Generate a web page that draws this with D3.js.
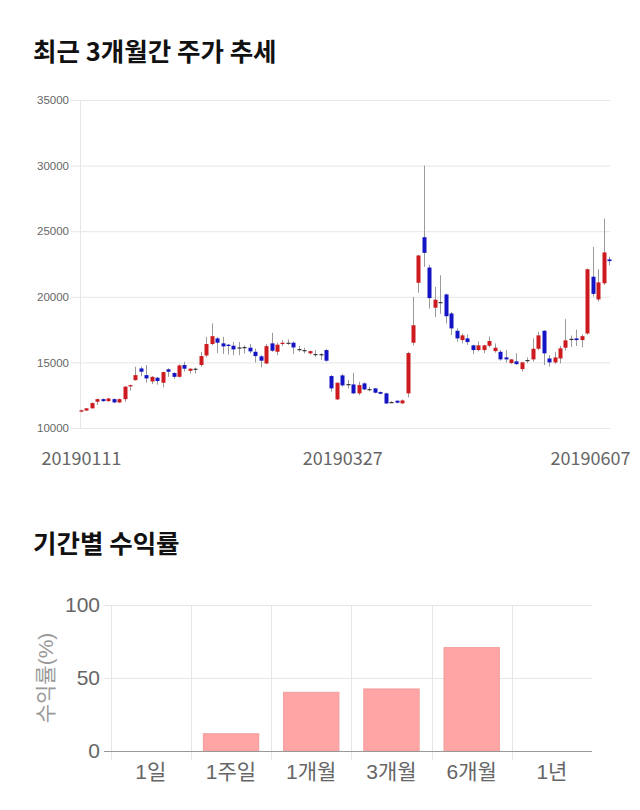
<!DOCTYPE html>
<html><head><meta charset="utf-8">
<script src="https://cdn.jsdelivr.net/npm/d3@7"></script>
<style>body{margin:0;background:#fff}</style>
</head><body>
<svg id="c" width="640" height="810"></svg>
<script>
const dates = ["20190111","20190114","20190115","20190116","20190117","20190118","20190121","20190122","20190123","20190124","20190125","20190128","20190129","20190130","20190131",
"20190207","20190208","20190211","20190212","20190213","20190214","20190215","20190218","20190219","20190220","20190221","20190222","20190225","20190226","20190227","20190228",
"20190304","20190305","20190306","20190307","20190308","20190311","20190312","20190313","20190314","20190315","20190318","20190319","20190320","20190321","20190322","20190325","20190326","20190327","20190328","20190329",
"20190401","20190402","20190403","20190404","20190405","20190408","20190409","20190410","20190411","20190412","20190415","20190416","20190417","20190418","20190419","20190422","20190423","20190424","20190425","20190426","20190429","20190430",
"20190502","20190503","20190507","20190508","20190509","20190510","20190513","20190514","20190515","20190516","20190517","20190520","20190521","20190522","20190523","20190524","20190527","20190528","20190529","20190530","20190531",
"20190603","20190604","20190605","20190607"];
const opens  = [11250,11330,11500,12000,12200,12050,12200,11950,12200,13170,13650,14540,14030,13550,13830,13450,14470,14190,13900,14800,14360,14520,14800,15530,16400,16830,16450,16350,16270,16140,16170,16120,15810,15460,14920,16450,15810,16400,16500,16500,16020,15940,15690,15640,15630,15940,13960,12180,14010,13350,13320,12640,13400,12970,13020,12740,12640,11980,12080,11880,12640,16500,21070,24540,22230,19170,19600,20180,18730,17410,16700,16830,16300,15940,15940,16270,15860,15810,15380,14950,15080,14490,15180,15230,16040,17410,15300,15000,15300,16120,16800,16830,16700,17210,21530,19800,21030,22850];
const highs  = [11400,11520,11950,12250,12250,12300,12250,12250,13200,13300,14670,14670,14800,13950,13900,14300,14550,14250,14850,15050,14550,14600,15800,16950,17970,16950,16950,16400,16560,16560,16300,16400,16050,15560,16400,17260,16500,16700,16750,16600,16250,16120,15900,15940,15700,16020,14030,13450,14110,13650,14210,13530,13480,13150,13050,12790,12690,12050,12100,12180,15810,19990,23200,30000,22450,20750,21640,20250,18850,17600,17200,17150,16350,16600,16350,16960,16450,15940,15940,15250,15690,15050,15380,16830,17330,17460,15560,15800,16250,18300,17050,17500,17130,22150,23800,22100,25960,23050];
const lows   = [11200,11300,11480,11750,12000,12000,11900,11900,12000,12850,13600,13950,13450,13350,13300,13100,13900,13750,13850,14300,14150,14150,14680,15380,16330,15700,15650,15600,15550,15550,15680,15700,14990,14620,14870,15810,15550,16250,16330,15650,15810,15680,15600,15430,15180,15050,12760,12130,13150,13000,12590,12510,12890,12790,12640,12560,11820,11900,11880,11830,12330,16300,20300,22280,19100,18460,18710,17970,17080,16580,16450,16330,15640,15840,15700,16150,15740,15130,14990,14880,14800,14300,14950,15050,15940,14800,14680,14870,14920,15900,16180,16250,16150,17100,20020,19640,20900,22400];
const closes = [11350,11500,11900,12200,12050,12250,11950,12200,13150,13270,14030,14290,13780,13900,13580,14260,14290,13900,14770,14520,14520,14520,15480,16400,17000,16500,16220,16250,15990,16140,16170,15840,15480,15130,16240,15890,16350,16500,16500,16140,16020,15940,15860,15640,15630,15130,13020,13450,13250,13350,12640,13270,12940,12970,12690,12610,11870,11980,11930,12100,15710,17830,23150,23350,19900,19780,19600,18520,17590,16830,17060,16550,15940,16300,16300,16630,16120,15230,15230,15230,14870,15000,15180,16040,17060,15690,15000,15380,16070,16680,16800,16700,17000,22100,20220,21100,23380,22720];
const priceTicks = [10000,15000,20000,25000,30000,35000];
const dateLabels = ["20190111","20190327","20190607"];

const periods = ["1일","1주일","1개월","3개월","6개월","1년"];
const returns = [0, 11.8, 40.2, 42.5, 70.8, null];
const returnTicks = [0,50,100];

const svg = d3.select("#c");
svg.append("rect").attr("width",640).attr("height",810).attr("fill","#fff");

const KR = "'Noto Sans CJK KR','Noto Sans',sans-serif";
const LS = "'Liberation Sans',Arial,'Noto Sans CJK KR',sans-serif";

svg.append("text").attr("x",33).attr("y",61).attr("font-family",KR).attr("font-weight","bold")
  .attr("font-size",25.5).attr("fill","#111").text("최근 3개월간 주가 추세");
svg.append("text").attr("x",33).attr("y",553).attr("font-family",KR).attr("font-weight","bold")
  .attr("font-size",25.5).attr("fill","#111").text("기간별 수익률");

// ---- candlestick chart ----
const x = d3.scalePoint().domain(dates).range([81,609]);
const y = d3.scaleLinear().domain([10000,35000]).range([428,100]);

const ya = svg.append("g").attr("transform","translate(71,0)")
  .call(d3.axisLeft(y).tickValues(priceTicks).tickSize(-539).tickPadding(2).tickFormat(d3.format("d")));
ya.select(".domain").remove();
ya.selectAll("line").attr("stroke","#e6e6e6");
ya.selectAll("text").attr("font-family",LS).attr("font-size",11.5).attr("fill","#666");

svg.append("line").attr("x1",80.5).attr("x2",80.5).attr("y1",100).attr("y2",428).attr("stroke","#e6e6e6");

const xa = svg.append("g").attr("transform","translate(0,428)")
  .call(d3.axisBottom(x).tickValues(dateLabels).tickSize(0).tickPadding(24));
xa.select(".domain").remove();
xa.selectAll("text").attr("font-family",KR).attr("font-size",18).attr("fill","#666");
xa.selectAll("text").filter(d => d === dateLabels[2]).attr("text-anchor","end").attr("x",21);

const candles = dates.map((d,i)=>({d,o:opens[i],h:highs[i],l:lows[i],c:closes[i]}));
const cg = svg.append("g");
cg.selectAll("line.w").data(candles).join("line").attr("class","w")
  .attr("x1",d=>Math.round(x(d.d))+0.5).attr("x2",d=>Math.round(x(d.d))+0.5)
  .attr("y1",d=>y(d.h)).attr("y2",d=>y(d.l)).attr("stroke","#9a9a9a").attr("stroke-width",1);
const bw = 4;
cg.selectAll("rect.b").data(candles).join("rect").attr("class","b")
  .attr("x",d=>Math.round(x(d.d))+0.5-bw/2)
  .attr("y",d=>Math.min(y(d.o),y(d.c)))
  .attr("width",bw)
  .attr("height",d=>Math.max(1.2,Math.abs(y(d.o)-y(d.c))))
  .attr("fill",d=>d.c>d.o?"#cc1a1f":(d.c<d.o?"#1414c4":"#333"));

// ---- returns bar chart ----
const xg = d3.scaleBand().domain(periods).range([110.7,592]);
const xb = d3.scaleBand().domain(periods).range([110.7,592]).paddingInner(0.31).paddingOuter(0.155);
const yb = d3.scaleLinear().domain([0,100]).range([751,605]);

const yba = svg.append("g").attr("transform","translate(104,0)")
  .call(d3.axisLeft(yb).tickValues(returnTicks).tickSize(-488).tickPadding(4));
yba.select(".domain").remove();
yba.selectAll("line").attr("stroke",d=>d===0?"#999":"#e6e6e6");
yba.selectAll("text").attr("font-family",LS).attr("font-size",21).attr("fill","#666");

svg.append("g").selectAll("line").data(periods).join("line")
  .attr("x1",d=>Math.round(xg(d))+0.5).attr("x2",d=>Math.round(xg(d))+0.5)
  .attr("y1",605).attr("y2",760).attr("stroke","#e6e6e6");

const bd = periods.map((p,i)=>({p,v:returns[i]})).filter(d=>d.v!=null && d.v>0);
svg.append("g").selectAll("rect").data(bd).join("rect")
  .attr("x",d=>xb(d.p)).attr("width",xb.bandwidth())
  .attr("y",d=>yb(d.v)).attr("height",d=>yb(0)-yb(d.v))
  .attr("fill","#ffa5a5").attr("stroke","#f29c9c").attr("stroke-width",1);

svg.append("line").attr("x1",104).attr("x2",592).attr("y1",751.5).attr("y2",751.5).attr("stroke","#999");

svg.append("g").selectAll("text").data(periods).join("text")
  .attr("x",d=>xg(d)+xg.bandwidth()/2).attr("y",779).attr("text-anchor","middle")
  .attr("font-family",LS).attr("font-size",21).attr("fill","#666").text(d=>d);

svg.append("text").attr("transform","translate(53,678) rotate(-90)").attr("text-anchor","middle")
  .attr("font-family",LS).attr("font-size",21).attr("fill","#999").text("수익률(%)");
</script>
</body></html>
